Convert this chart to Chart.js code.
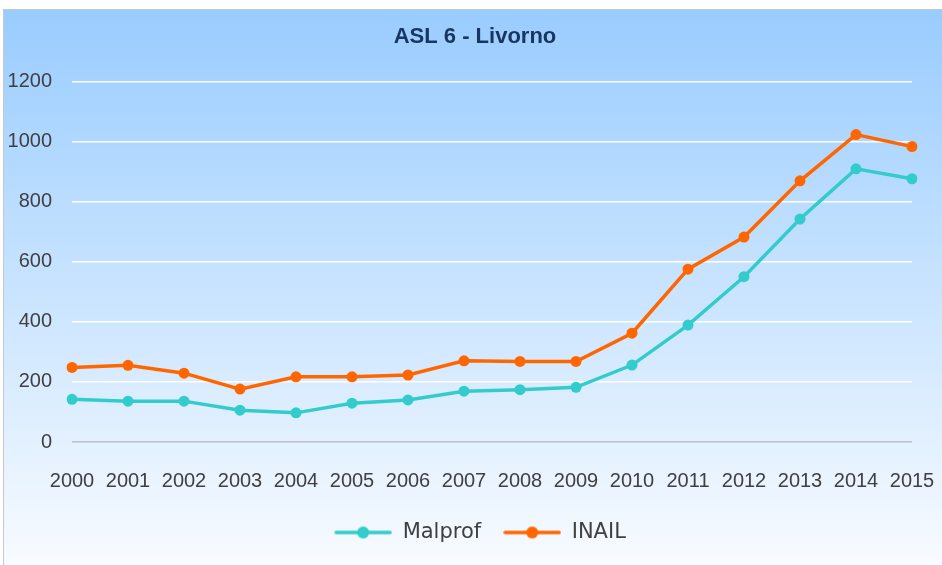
<!DOCTYPE html>
<html>
<head>
<meta charset="utf-8">
<script src="https://cdn.jsdelivr.net/npm/chart.js@4"></script>
<style>
  html, body { margin: 0; padding: 0; background: #ffffff; }
  #wrap { position: absolute; left: 0; top: 0; width: 942px; height: 565px; }
</style>
</head>
<body>
<div id="wrap"><canvas id="asl6Chart" width="942" height="565"></canvas></div>
<script>
const anni = ['2000', '2001', '2002', '2003', '2004', '2005', '2006', '2007',
              '2008', '2009', '2010', '2011', '2012', '2013', '2014', '2015'];
const malprof = [142, 136, 136, 106, 97, 129, 140, 169, 174, 182, 256, 389, 550, 742, 909, 876];
const inail = [248, 255, 229, 176, 217, 217, 223, 270, 268, 268, 362, 575, 682, 869, 1023, 983];
const yTicks = [0, 200, 400, 600, 800, 1000, 1200];

const colMalprof = '#33CCCC';
const colInail = '#FF6600';

// simbolo legenda: linea con pallino
function legendIcon(colore) {
    const c = document.createElement('canvas');
    c.width = 58;
    c.height = 14;
    const g = c.getContext('2d');
    g.strokeStyle = colore;
    g.lineWidth = 3.5;
    g.lineCap = 'round';
    g.beginPath();
    g.moveTo(2, 7);
    g.lineTo(56, 7);
    g.stroke();
    g.fillStyle = colore;
    g.beginPath();
    g.arc(29, 7, 6, 0, Math.PI * 2);
    g.fill();
    return c;
}

// sfondo sfumato della cornice + titolo e legenda spostati come nell'originale
const sfondo = {
    id: 'sfondo',
    afterLayout(chart) {
        const t = chart.titleBlock;
        if (t) { t.left += 19; t.right += 19; }
        const l = chart.legend;
        if (l) { l.left += 24; l.right += 24; }
    },
    beforeDraw(chart) {
        const ctx = chart.ctx;
        ctx.save();
        ctx.fillStyle = '#ffffff';
        ctx.fillRect(0, 0, chart.width, chart.height);
        const grad = ctx.createLinearGradient(0, 9, 0, chart.height);
        grad.addColorStop(0, '#99CCFF');
        grad.addColorStop(1, '#F8FBFF');
        ctx.fillStyle = grad;
        ctx.fillRect(3, 9, chart.width - 3, chart.height - 9);
        ctx.strokeStyle = '#c8c8c8';
        ctx.lineWidth = 1;
        ctx.beginPath();
        ctx.moveTo(3.5, chart.height);
        ctx.lineTo(3.5, 9.5);
        ctx.lineTo(chart.width, 9.5);
        ctx.stroke();
        ctx.restore();
    }
};

const ctx = document.getElementById('asl6Chart').getContext('2d');
new Chart(ctx, {
    type: 'line',
    data: {
        labels: anni,
        datasets: [{
            label: 'Malprof',
            data: malprof,
            borderColor: colMalprof,
            backgroundColor: colMalprof,
            pointBackgroundColor: colMalprof,
            borderWidth: 3.5,
            pointRadius: 5.5,
            pointBorderWidth: 0,
            tension: 0
        }, {
            label: 'INAIL',
            data: inail,
            borderColor: colInail,
            backgroundColor: colInail,
            pointBackgroundColor: colInail,
            borderWidth: 3.5,
            pointRadius: 5.5,
            pointBorderWidth: 0,
            tension: 0
        }]
    },
    options: {
        responsive: false,
        animation: false,
        layout: { padding: { left: 0, right: 30, top: 0, bottom: 12 } },
        plugins: {
            title: {
                display: true,
                text: 'ASL 6 - Livorno',
                color: '#17375E',
                font: { family: 'Liberation Sans', size: 22, weight: 'bold' },
                padding: { top: 24, bottom: 31 }
            },
            legend: {
                position: 'bottom',
                labels: {
                    usePointStyle: true,
                    pointStyleWidth: 58,
                    padding: 22,
                    color: '#404040',
                    font: { family: 'DejaVu Sans', size: 21 },
                    generateLabels(chart) {
                        return chart.data.datasets.map((ds, i) => ({
                            text: ds.label,
                            pointStyle: legendIcon(ds.borderColor),
                            fillStyle: ds.borderColor,
                            strokeStyle: ds.borderColor,
                            lineWidth: 0,
                            fontColor: '#404040',
                            datasetIndex: i
                        }));
                    }
                }
            },
            tooltip: { enabled: false }
        },
        scales: {
            x: {
                offset: false,
                afterFit(scale) { scale.height = 58; },
                grid: { display: false, drawTicks: true, tickLength: 27 },
                border: { display: false },
                ticks: {
                    color: '#404040',
                    padding: 0,
                    maxRotation: 0,
                    autoSkip: false,
                    font: { family: 'Liberation Sans', size: 20 }
                }
            },
            y: {
                min: 0,
                max: 1200,
                afterFit(scale) { scale.width = 72; },
                afterBuildTicks(scale) { scale.ticks = yTicks.map(v => ({ value: v })); },
                border: { display: false },
                grid: {
                    drawTicks: false,
                    lineWidth: 1.5,
                    color: c => (c.tick && c.tick.value === 0) ? '#BFBFBF' : '#FFFFFF'
                },
                ticks: {
                    color: '#404040',
                    padding: 20,
                    callback: v => String(v),
                    font: { family: 'Liberation Sans', size: 20 }
                }
            }
        }
    },
    plugins: [sfondo]
});
</script>
</body>
</html>
